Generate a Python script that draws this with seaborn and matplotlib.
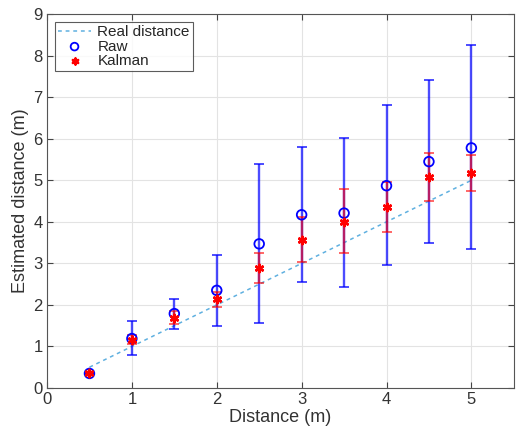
import numpy as np
import pandas as pd
import matplotlib
matplotlib.use("Agg")
import matplotlib.pyplot as plt
import seaborn as sns

# Ground-truth distances (m)
distance = [0.5, 1.0, 1.5, 2.0, 2.5, 3.0, 3.5, 4.0, 4.5, 5.0]

# Raw estimates: mean and error bar limits
raw_mean = [0.35, 1.19, 1.79, 2.35, 3.47, 4.17, 4.21, 4.87, 5.45, 5.78]
raw_low = [0.33, 0.79, 1.43, 1.50, 1.57, 2.55, 2.44, 2.95, 3.49, 3.34]
raw_high = [0.37, 1.61, 2.14, 3.20, 5.40, 5.81, 6.01, 6.81, 7.41, 8.25]

# Kalman-filtered estimates: mean and error bar limits
kal_mean = [0.35, 1.16, 1.69, 2.15, 2.89, 3.56, 4.00, 4.35, 5.08, 5.18]
kal_low = [0.33, 1.05, 1.55, 1.95, 2.52, 3.04, 3.24, 3.75, 4.50, 4.74]
kal_high = [0.37, 1.28, 1.85, 2.32, 3.25, 4.12, 4.80, 4.95, 5.66, 5.61]

sns.set_theme(style="white")
plt.rcParams["font.family"] = ["Liberation Sans", "DejaVu Sans"]

df = pd.DataFrame({
    "distance": distance,
    "raw": raw_mean, "raw_low": raw_low, "raw_high": raw_high,
    "kal": kal_mean, "kal_low": kal_low, "kal_high": kal_high,
})

fig = plt.figure(figsize=(5.19, 4.29), dpi=100)
ax = fig.add_axes([0.0906, 0.0956, 0.8994, 0.8714])

blue = (0.0, 0.0, 1.0)
red = (1.0, 0.0, 0.0)

# Reference line y = x
sns.lineplot(data=df, x="distance", y="distance", ax=ax, color="#5fb0e0",
             linestyle=(0, (2.5, 2.5)), linewidth=1.1, label="Real distance",
             zorder=2)

# Raw error bars
ax.errorbar(df["distance"], df["raw"],
            yerr=[df["raw"] - df["raw_low"], df["raw_high"] - df["raw"]],
            fmt="none", ecolor=blue, alpha=0.7, elinewidth=1.7,
            capsize=3.5, capthick=1.4, zorder=3)
# Kalman error bars
ax.errorbar(df["distance"], df["kal"],
            yerr=[df["kal"] - df["kal_low"], df["kal_high"] - df["kal"]],
            fmt="none", ecolor=red, alpha=0.6, elinewidth=1.7,
            capsize=3.5, capthick=1.4, zorder=4)

sns.scatterplot(data=df, x="distance", y="raw", ax=ax, marker="o", s=48,
                facecolor="none", edgecolor=blue, linewidth=1.3,
                label="Raw", zorder=5)
sns.scatterplot(data=df, x="distance", y="kal", ax=ax, marker=(6, 2, 0), s=28,
                color=red, edgecolor=red, linewidth=1.8,
                label="Kalman", zorder=6)

ax.set_xlim(0, 5.5)
ax.set_ylim(0, 9)
ax.set_xticks([0, 1, 2, 3, 4, 5])
ax.set_yticks(range(0, 10))
ax.grid(True, color="#e3e3e3", linewidth=0.8)
ax.set_axisbelow(True)
ax.tick_params(direction="in", length=4, width=0.8, colors="#444444",
               labelcolor="#333333", labelsize=12, top=True, right=True,
               bottom=True, left=True, pad=3)
for s in ax.spines.values():
    s.set_color("#555555")
    s.set_linewidth(0.8)

ax.set_xlabel("Distance (m)", fontsize=13, color="#333333", labelpad=1)
ax.set_ylabel("Estimated distance (m)", fontsize=13, color="#333333", labelpad=3)

leg = ax.legend(loc="upper left", fontsize=11, frameon=True, fancybox=False,
                borderpad=0.2, labelspacing=0.05, handlelength=2.2,
                handletextpad=0.4, borderaxespad=0.5, markerscale=0.8)
leg.get_frame().set_edgecolor("#333333")
leg.get_frame().set_linewidth(0.8)

fig.savefig("out.png", dpi=100)
